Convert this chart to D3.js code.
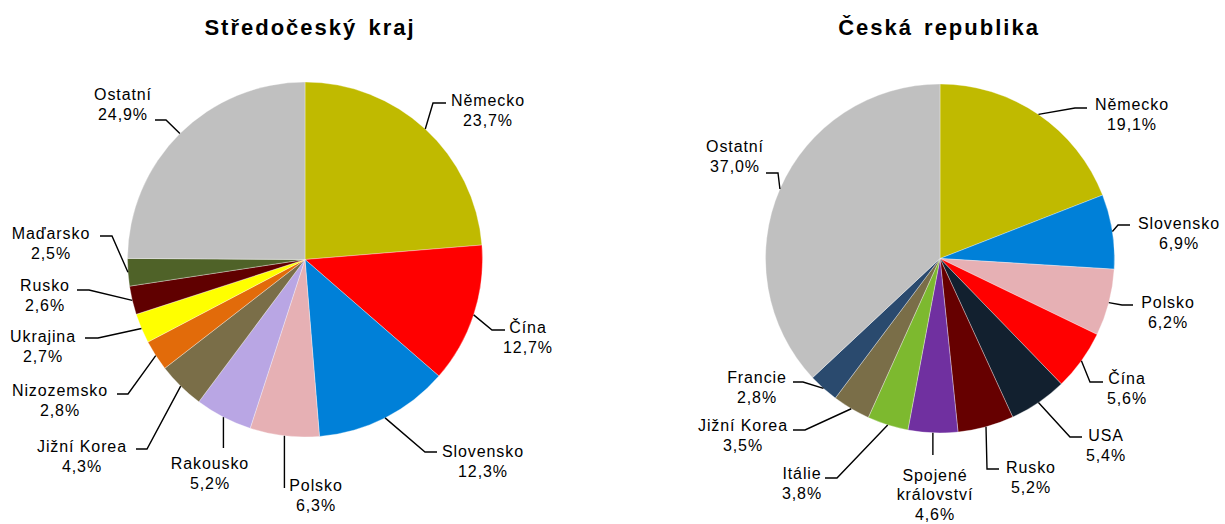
<!DOCTYPE html>
<html>
<head>
<meta charset="utf-8">
<script src="https://cdn.jsdelivr.net/npm/d3@7"></script>
<style>
  html, body { margin: 0; padding: 0; background: #fff; }
  svg text { font-family: "Liberation Sans", Arial, sans-serif; fill: #000; }
</style>
</head>
<body>
<svg id="chart" width="1225" height="524"></svg>
<script>
// ---------- DATA ----------
const leftTitle = "Středočeský kraj";
const leftCategories = ["Německo", "Čína", "Slovensko", "Polsko", "Rakousko", "Jižní Korea", "Nizozemsko", "Ukrajina", "Rusko", "Maďarsko", "Ostatní"];
const leftValues = [23.7, 12.7, 12.3, 6.3, 5.2, 4.3, 2.8, 2.7, 2.6, 2.5, 24.9];
const leftColors = ["#C0BA00", "#FF0000", "#0080D8", "#E6B0B4", "#B9A6E4", "#7A6E48", "#E26B0A", "#FFFF00", "#600000", "#4F6228", "#C0C0C0"];

const rightTitle = "Česká republika";
const rightCategories = ["Německo", "Slovensko", "Polsko", "Čína", "USA", "Rusko", "Spojené království", "Itálie", "Jižní Korea", "Francie", "Ostatní"];
const rightValues = [19.1, 6.9, 6.2, 5.6, 5.4, 5.2, 4.6, 3.8, 3.5, 2.8, 37.0];
const rightColors = ["#C0BA00", "#0080D8", "#E6B0B4", "#FF0000", "#12202F", "#660000", "#7030A0", "#7DB92F", "#7A6E48", "#2A4A6E", "#C0C0C0"];

// ---------- LAYOUT (label placement, not data) ----------
const leftLayout = {
  cx: 305, cy: 259.5, r: 177.5, titleX: 310, titleY: 35,
  labels: [ // [centerX, line1CenterY], leader points after the arc point
    {pos: [488, 100], leader: [[433, 103], [446, 103]]},
    {pos: [528, 327], leader: [[492, 330], [505, 330]]},
    {pos: [483, 451], leader: [[425, 452], [437, 452]]},
    {pos: [316, 485], leader: [[285, 488]]},
    {pos: [210, 463], leader: [[223, 448]]},
    {pos: [82, 446],  leader: [[147, 449], [136, 449]]},
    {pos: [60, 390],  leader: [[128, 394], [117, 394]]},
    {pos: [43, 336],  leader: [[98, 338], [85, 338]]},
    {pos: [45, 285],  leader: [[89, 290], [77, 290]]},
    {pos: [51, 233],  leader: [[112, 236], [100, 236]]},
    {pos: [123, 94],  leader: [[166, 120], [155, 120]]}
  ]
};
const rightLayout = {
  cx: 940, cy: 258.5, r: 174.5, titleX: 939, titleY: 35,
  labels: [
    {pos: [1132, 104], leader: [[1075, 108], [1087, 108]]},
    {pos: [1179, 223], leader: [[1118, 225], [1130, 225]]},
    {pos: [1168, 302], leader: [[1122, 305], [1133, 305]]},
    {pos: [1127, 378], leader: [[1090, 382], [1103, 382]]},
    {pos: [1106, 435], leader: [[1070, 437], [1082, 437]]},
    {pos: [1031, 467], leader: [[987, 469], [999, 469]]},
    {pos: [935, 475],  leader: [[933, 455]], lines: ["Spojené", "království"], step: 19.5},
    {pos: [802, 473],  leader: [[837, 478], [825, 478]]},
    {pos: [743, 425],  leader: [[805, 430], [793, 430]]},
    {pos: [757, 377],  leader: [[803, 382], [793, 382]]},
    {pos: [735, 146],  leader: [[778, 173], [766, 173]]}
  ]
};

const svg = d3.select("#chart");
const fmt = v => d3.format(".1f")(v).replace(".", ",") + "%";

function drawPie(title, cats, vals, cols, L) {
  const data = cats.map((c, i) => ({name: c, value: vals[i], color: cols[i], lay: L.labels[i]}));
  const pie = d3.pie().value(d => d.value).sort(null).startAngle(0).endAngle(2 * Math.PI);
  const arcs = pie(data);
  const arc = d3.arc().innerRadius(0).outerRadius(L.r);
  const g = svg.append("g").attr("transform", `translate(${L.cx},${L.cy})`);

  g.selectAll("path.slice").data(arcs).join("path")
    .attr("class", "slice")
    .attr("d", arc)
    .attr("fill", d => d.data.color)
    .attr("stroke", "rgba(255,255,255,0.55)")
    .attr("stroke-width", 0.6);

  // leaders
  const line = d3.line();
  arcs.forEach(a => {
    const mid = (a.startAngle + a.endAngle) / 2;
    const p0 = [L.cx + L.r * Math.sin(mid), L.cy - L.r * Math.cos(mid)];
    let pts = [p0].concat(a.data.lay.leader);
    if (pts.length === 2 && Math.abs(pts[1][0] - p0[0]) < 3) pts[1] = [p0[0], pts[1][1]];
    svg.append("path")
      .attr("d", line(pts))
      .attr("fill", "none")
      .attr("stroke", "#000")
      .attr("stroke-width", 1.4);
  });

  // labels
  arcs.forEach(a => {
    const lay = a.data.lay;
    const step = lay.step || 20.5;
    const lines = (lay.lines || [a.data.name]).concat([fmt(a.data.value)]);
    const t = svg.append("text")
      .attr("text-anchor", "middle")
      .attr("font-size", 16)
      .style("letter-spacing", "0.9px");
    lines.forEach((s, i) => {
      t.append("tspan")
        .attr("x", lay.pos[0])
        .attr("y", lay.pos[1] + i * step)
        .attr("dy", "0.36em")
        .text(s);
    });
  });

  svg.append("text")
    .attr("x", L.titleX)
    .attr("y", L.titleY)
    .attr("text-anchor", "middle")
    .attr("font-size", 22)
    .attr("font-weight", "bold")
    .style("letter-spacing", "2px")
    .style("word-spacing", "3px")
    .text(title);
}

drawPie(leftTitle, leftCategories, leftValues, leftColors, leftLayout);
drawPie(rightTitle, rightCategories, rightValues, rightColors, rightLayout);
</script>
</body>
</html>
